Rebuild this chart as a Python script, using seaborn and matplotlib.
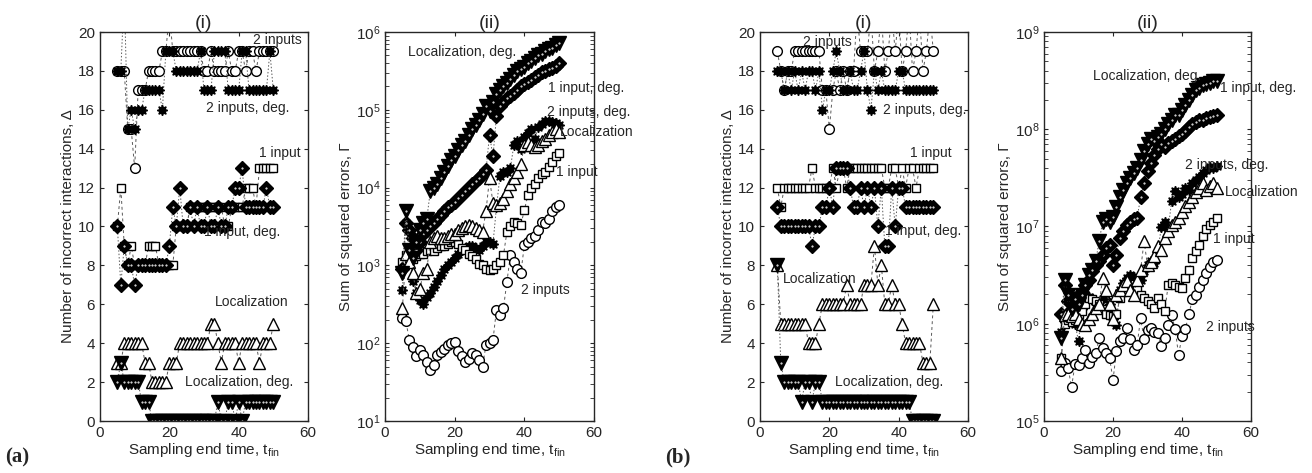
import numpy as np
import matplotlib
matplotlib.use('Agg')
import matplotlib.pyplot as plt
import seaborn as sns

# sampling end times (same for every panel)
t_fin = list(range(5, 51))

# ---- (a)(i) number of incorrect interactions
a1_two      = [18,18,18,15,15,13,17,17,17,18,18,18,18,19,19,21,19,19,19,19,19,19,19,19,19,
               18,18,19,18,18,18,18,19,18,18,19,19,18,19,19,18,19,19,19,19,19]
a1_two_deg  = [18,18,22,15,16,15,16,16,17,17,17,17,17,16,19,19,19,18,18,18,18,18,18,18,19,
               17,17,17,19,19,19,19,17,17,17,17,19,19,17,17,17,17,17,17,19,17]
a1_one      = [10,12,9,8,9,8,8,8,8,9,9,9,8,8,8,8,8,10,10,10,10,11,11,11,11,11,11,11,11,11,
               11,10,10,11,11,11,11,12,12,12,11,13,13,13,13,13]
a1_one_deg  = [10,7,9,8,8,7,8,8,8,8,8,8,8,8,8,9,11,10,12,10,10,11,10,11,10,10,11,10,10,11,
               10,10,11,11,12,12,13,11,11,11,11,11,11,12,11,11]
a1_loc      = [3,3,4,4,4,4,4,4,3,3,2,2,2,2,2,3,3,3,4,4,4,4,4,4,4,4,4,5,5,4,3,4,4,4,4,3,
               4,4,4,4,4,3,4,4,4,5]
a1_loc_deg  = [2,3,2,2,2,2,2,1,1,1,0,0,0,0,0,0,0,0,0,0,0,0,0,0,0,0,0,0,0,1,0,0,1,1,0,1,
               0,1,1,1,1,1,1,1,1,1]

# ---- (a)(ii) sum of squared errors, read as log10 exponents
a2_two_exp     = [2.32,2.28,2.04,1.95,1.83,1.91,1.85,1.76,1.66,1.72,1.85,1.89,1.92,1.98,2.0,
                  2.02,1.9,1.83,1.76,1.8,1.87,1.85,1.78,1.70,1.98,2.0,2.04,2.43,2.36,2.45,
                  2.79,3.13,3.05,2.95,2.9,3.26,3.3,3.35,3.38,3.45,3.56,3.54,3.6,3.7,3.75,3.78]
a2_two_deg_exp = [2.68,3.55,3.1,2.8,2.65,2.55,2.5,2.6,2.65,2.72,2.8,2.88,2.95,3.0,3.05,
                  3.1,3.15,3.2,3.22,3.25,3.25,3.22,3.2,3.25,3.3,3.3,3.28,3.75,4.15,4.2,
                  4.2,4.25,4.55,4.6,4.5,4.65,4.7,4.75,4.62,4.78,4.82,4.85,4.85,4.84,4.83,4.8]
a2_one_exp     = [3.05,3.13,3.1,3.08,3.12,3.15,3.15,3.18,3.2,3.18,3.22,3.25,3.25,3.28,3.3,
                  3.3,3.28,3.22,3.2,3.15,3.12,3.08,3.02,3.0,2.95,2.94,2.95,3.0,3.05,3.13,
                  3.43,3.5,3.56,3.55,3.52,3.71,3.9,3.99,4.05,4.12,4.18,4.2,4.26,4.33,4.4,4.44]
a2_one_deg_exp = [2.95,3.55,3.45,3.35,3.2,3.3,3.4,3.45,3.5,3.55,3.6,3.65,3.7,3.75,3.78,
                  3.82,3.86,3.9,3.95,4.0,4.05,4.08,4.12,4.18,4.22,4.68,4.4,4.92,5.05,5.1,
                  5.15,5.18,5.22,5.25,5.3,5.33,5.36,5.38,5.42,5.45,5.48,5.5,5.52,5.54,5.56,5.6]
a2_loc_exp     = [2.45,3.15,3.05,2.9,2.65,2.7,2.9,2.95,3.3,3.35,3.38,3.35,3.35,3.38,3.4,
                  3.4,3.45,3.48,3.5,3.52,3.5,3.48,3.45,3.43,3.7,4.12,3.8,3.78,3.8,3.85,
                  3.95,4.05,4.12,4.2,4.3,4.55,4.58,4.55,4.52,4.55,4.6,4.63,4.68,4.72,4.75,4.72]
a2_loc_deg_exp = [2.9,3.7,3.2,3.1,3.3,3.45,3.55,3.6,3.95,4.0,4.05,4.12,4.2,4.28,4.35,
                  4.4,4.48,4.55,4.6,4.68,4.75,4.8,4.87,4.95,5.05,4.98,5.1,5.2,5.25,5.3,
                  5.35,5.4,5.45,5.5,5.52,5.55,5.6,5.63,5.67,5.7,5.72,5.75,5.78,5.8,5.83,5.86]

# ---- (b)(i)
b1_two      = [19,18,17,18,18,19,19,19,19,19,19,19,19,17,17,15,17,18,17,18,17,18,18,21,19,
               19,19,21,18,19,21,18,19,21,19,21,18,19,21,18,19,21,18,19,21,19]
b1_two_deg  = [18,18,17,18,17,18,17,18,17,18,18,17,18,16,17,17,18,19,18,17,17,18,17,17,18,
               19,17,16,18,17,18,17,17,17,17,18,18,17,17,17,17,17,17,17,17,17]
b1_one      = [12,11,12,12,12,12,12,12,12,12,13,12,12,12,12,12,13,12,13,13,12,13,13,13,13,
               13,13,13,13,13,13,12,12,13,13,12,13,12,13,13,12,13,13,13,13,13]
b1_one_deg  = [11,10,10,10,10,10,10,10,10,10,9,10,10,11,11,12,11,13,13,13,13,12,11,11,12,
               11,12,11,12,10,12,9,9,12,10,12,12,11,11,11,11,11,11,11,11,11]
b1_loc      = [8,5,5,5,5,5,5,5,5,4,4,4,5,6,6,6,6,6,6,6,7,6,6,6,6,7,7,7,9,7,8,6,6,7,6,6,
               5,4,4,4,4,4,3,3,3,6]
b1_loc_deg  = [8,3,2,2,2,2,2,1,2,2,1,2,2,1,1,1,1,1,1,1,1,1,1,1,1,1,1,1,1,1,1,1,1,1,1,1,
               1,1,1,0,0,0,0,0,0,0]

# ---- (b)(ii), log10 exponents
b2_two_exp     = [5.51,5.6,5.54,5.35,5.59,5.58,5.65,5.73,5.6,5.66,5.7,5.85,5.75,5.7,5.65,
                  5.42,5.72,5.82,5.85,5.96,5.84,5.73,5.78,6.06,5.84,5.94,5.96,5.92,5.9,5.77,
                  5.85,5.99,6.09,5.95,5.68,5.87,5.95,6.1,6.25,6.3,6.38,6.45,6.52,6.58,6.63,6.66]
b2_two_deg_exp = [5.92,6.02,6.05,6.09,6.0,5.82,6.15,6.3,6.28,6.25,6.2,6.22,6.25,6.3,6.2,
                  6.05,5.99,6.35,6.42,6.47,6.5,6.48,6.4,6.45,6.54,6.6,6.65,6.62,6.75,6.99,
                  7.05,6.98,7.26,7.36,7.3,7.33,7.4,7.38,7.45,7.48,7.51,7.55,7.58,7.61,7.6,7.62]
b2_one_exp     = [5.65,6.0,6.04,6.02,6.04,6.1,6.13,6.2,6.26,6.25,6.23,6.2,6.15,6.1,6.09,
                  6.08,6.1,6.26,6.35,6.36,6.38,6.38,6.36,6.3,6.26,6.23,6.2,6.16,6.26,6.2,
                  6.13,6.4,6.42,6.4,6.38,6.37,6.47,6.55,6.68,6.75,6.81,6.9,6.97,7.02,7.05,7.09]
b2_one_deg_exp = [6.1,6.4,6.23,6.15,6.2,6.3,6.33,6.4,6.45,6.54,6.6,6.65,6.71,6.78,6.81,
                  6.6,6.71,6.88,6.95,7.02,7.05,7.08,7.09,7.3,7.45,7.57,7.65,7.74,7.8,7.85,
                  7.82,7.86,7.88,7.9,7.93,7.95,7.98,8.02,8.05,8.07,8.09,8.1,8.12,8.13,8.14,8.15]
b2_loc_exp     = [5.65,6.09,6.1,6.08,6.1,6.05,6.0,5.99,6.05,6.1,6.16,6.2,6.47,6.35,6.2,
                  6.05,6.3,6.35,6.4,6.44,6.35,6.3,6.45,6.55,6.85,6.6,6.64,6.7,6.8,6.76,
                  6.88,6.95,7.02,7.05,7.09,7.15,7.21,7.25,7.3,7.35,7.4,7.45,7.38,7.42,7.45,7.4]
b2_loc_deg_exp = [5.85,6.45,6.3,6.15,6.25,6.2,6.3,6.4,6.5,6.55,6.65,6.85,7.05,7.08,7.05,
                  7.1,7.2,7.3,7.38,7.45,7.5,7.55,7.6,7.68,7.78,7.85,7.9,7.88,7.92,7.95,
                  8.0,8.05,8.1,8.15,8.15,8.2,8.25,8.3,8.35,8.4,8.42,8.45,8.47,8.48,8.5,8.5]

names = ['2 inputs', '2 inputs, deg.', '1 input', '1 input, deg.',
         'Localization', 'Localization, deg.']

# marker, size, filled, line style
styles = {
    '2 inputs':           ('o', 7.0, False, (0, (3, 3))),
    '2 inputs, deg.':     ((8, 1, 0), 7.5, True, (0, (1.5, 2))),
    '1 input':            ('s', 5.5, False, (0, (3, 3))),
    '1 input, deg.':      ('D', 7.0, True, (0, (1.5, 2))),
    'Localization':       ('^', 8.0, False, (0, (3, 3))),
    'Localization, deg.': ('v', 9.5, True, (0, (1.5, 2))),
}


def draw_panel(ax, series, log=False, labels=None):
    for name in names:
        y = np.array(series[name], dtype=float)
        if log:
            y = 10 ** y
        mk, ms, filled, ls = styles[name]
        sns.lineplot(x=t_fin, y=y, ax=ax, sort=False, estimator=None,
                     color='0.35', linewidth=0.7, linestyle=ls,
                     marker=mk, markersize=ms,
                     markerfacecolor='black' if filled else 'white',
                     markeredgecolor='black', markeredgewidth=1.0)
        if filled and mk != (8, 1, 0):
            ax.plot(t_fin, y, linestyle='none', marker='.', markersize=1.0,
                    color='white')
    if labels:
        for txt, (tx, ty) in labels.items():
            ax.text(tx, ty, txt, fontsize=10, ha='left', va='center',
                    clip_on=False)
    ax.set_xlim(0, 60)
    ax.set_xticks([0, 20, 40, 60])
    ax.set_xlabel('Sampling end time, t$_{\\rm fin}$', fontsize=11, labelpad=1)
    ax.tick_params(direction='in', which='both', top=True, right=True,
                   labelsize=11, length=3)
    for sp in ax.spines.values():
        sp.set_linewidth(1.0)


sns.set_style('ticks')
plt.rcParams['font.family'] = ['Liberation Sans', 'DejaVu Sans']
plt.rcParams['mathtext.fontset'] = 'custom'
plt.rcParams['mathtext.rm'] = 'Liberation Sans'

fig = plt.figure(figsize=(13.12, 4.73), dpi=100)
W, H = 1312, 473
def box(l, r):
    return [l / W, 1 - 421 / H, (r - l) / W, (421 - 32) / H]

ax1 = fig.add_axes(box(100, 308))
ax2 = fig.add_axes(box(385, 594))
ax3 = fig.add_axes(box(760, 968))
ax4 = fig.add_axes(box(1044, 1251))

draw_panel(ax1, dict(zip(names, [a1_two, a1_two_deg, a1_one, a1_one_deg, a1_loc, a1_loc_deg])),
           labels={'2 inputs': (44, 19.6), '2 inputs, deg.': (30.5, 16.1),
                   '1 input': (46, 13.8), '1 input, deg.': (30, 9.7),
                   'Localization': (33, 6.1), 'Localization, deg.': (24.5, 2.0)})
ax1.set_ylim(0, 20)
ax1.set_yticks(range(0, 21, 2))
ax1.set_ylabel('Number of incorrect interactions, \u0394', fontsize=11, labelpad=2)
ax1.set_title('(i)', fontsize=14, pad=2)

draw_panel(ax2, dict(zip(names, [a2_two_exp, a2_two_deg_exp, a2_one_exp, a2_one_deg_exp,
                                 a2_loc_exp, a2_loc_deg_exp])), log=True,
           labels={'Localization, deg.': (6.6, 10 ** 5.74), '1 input, deg.': (46.8, 10 ** 5.28),
                   '2 inputs, deg.': (46.5, 10 ** 4.97), 'Localization': (50.2, 10 ** 4.71),
                   '1 input': (49, 10 ** 4.2), '2 inputs': (39, 10 ** 2.68)})
ax2.set_yscale('log')
ax2.set_ylim(1e1, 1e6)
ax2.set_ylabel('Sum of squared errors, \u0393', fontsize=11, labelpad=2)
ax2.set_title('(ii)', fontsize=14, pad=2)

draw_panel(ax3, dict(zip(names, [b1_two, b1_two_deg, b1_one, b1_one_deg, b1_loc, b1_loc_deg])),
           labels={'2 inputs': (12.4, 19.5), '2 inputs, deg.': (35.5, 16.0),
                   '1 input': (43.3, 13.8), '1 input, deg.': (36, 9.75),
                   'Localization': (6.6, 7.3), 'Localization, deg.': (21.6, 2.0)})
ax3.set_ylim(0, 20)
ax3.set_yticks(range(0, 21, 2))
ax3.set_ylabel('Number of incorrect interactions, \u0394', fontsize=11, labelpad=2)
ax3.set_title('(i)', fontsize=14, pad=2)

draw_panel(ax4, dict(zip(names, [b2_two_exp, b2_two_deg_exp, b2_one_exp, b2_one_deg_exp,
                                 b2_loc_exp, b2_loc_deg_exp])), log=True,
           labels={'Localization, deg.': (14.2, 10 ** 8.55), '1 input, deg.': (51, 10 ** 8.42),
                   '2 inputs, deg.': (40.9, 10 ** 7.63), 'Localization': (52.5, 10 ** 7.35),
                   '1 input': (49, 10 ** 6.87), '2 inputs': (47, 10 ** 5.97)})
ax4.set_yscale('log')
ax4.set_ylim(1e5, 1e9)
ax4.set_ylabel('Sum of squared errors, \u0393', fontsize=11, labelpad=2)
ax4.set_title('(ii)', fontsize=14, pad=2)

fig.text(5 / W, 1 - 467 / H, '(a)', fontsize=15, fontweight='bold',
         family='Liberation Serif', va='bottom')
fig.text(665 / W, 1 - 467 / H, '(b)', fontsize=15, fontweight='bold',
         family='Liberation Serif', va='bottom')

fig.savefig('out.png', dpi=100)
